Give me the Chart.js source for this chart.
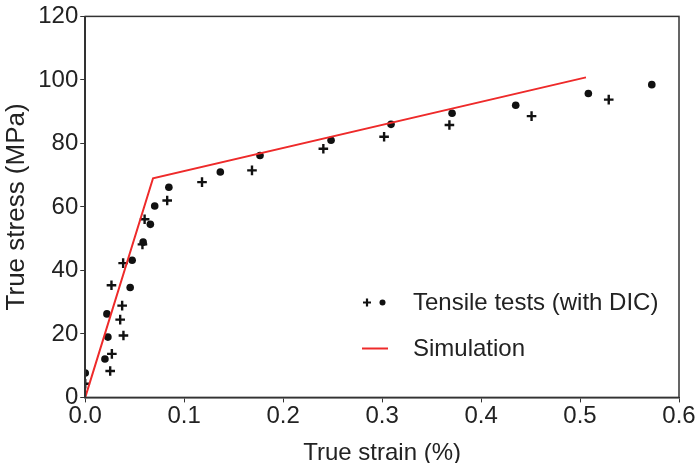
<!DOCTYPE html>
<html>
<head>
<meta charset="utf-8">
<script src="https://cdn.jsdelivr.net/npm/chart.js@4/dist/chart.umd.min.js"></script>
<style>
  html, body { margin: 0; padding: 0; background: #fff; }
  #wrap { width: 696px; height: 463px; }
</style>
</head>
<body>
<div id="wrap"><canvas id="stressChart" width="696" height="463"></canvas></div>
<script>
// ========== DATA ==========
const dotStrain   = [0.0, 0.0199, 0.0229, 0.0219, 0.0454, 0.0474, 0.0585, 0.0658, 0.0702, 0.0845, 0.1365, 0.1766, 0.2484, 0.309, 0.3707, 0.435, 0.5084, 0.5725];
const dotStress   = [7.7, 12.1, 19.0, 26.3, 34.6, 43.2, 48.9, 54.5, 60.3, 66.2, 71.0, 76.2, 81.0, 86.0, 89.5, 92.0, 95.7, 98.5];
const crossStrain = [0.0, 0.0252, 0.0269, 0.0386, 0.0353, 0.0373, 0.0265, 0.0383, 0.0578, 0.0600, 0.0828, 0.118, 0.1685, 0.2406, 0.302, 0.368, 0.451, 0.529];
const crossStress = [4.3, 8.3, 13.7, 19.5, 24.5, 28.9, 35.3, 42.3, 48.2, 56.1, 62.0, 67.8, 71.5, 78.3, 82.1, 85.8, 88.6, 93.8];
const simStrain   = [0.0, 0.0685, 0.506];
const simStress   = [0.0, 69.0, 100.8];

const legendLabels = ['Tensile tests (with DIC)', 'Simulation'];

const toPoints = (xs, ys) => xs.map((x, i) => ({ x: x, y: ys[i] }));

const FONT_FAMILY = '"Liberation Sans", Arial, sans-serif';

// frame around plot area + custom legend (two markers for the test data)
const framePlugin = {
    id: 'frame',
    afterDraw(chart) {
        const { ctx, chartArea: a } = chart;
        ctx.save();
        ctx.strokeStyle = '#333';
        ctx.lineWidth = 1.5;
        ctx.strokeRect(a.left, a.top, a.right - a.left, a.bottom - a.top);

        ctx.font = '24px ' + FONT_FAMILY;
        ctx.fillStyle = '#222';
        ctx.textBaseline = 'middle';
        ctx.fillText(legendLabels[0], 413, 303);
        ctx.fillText(legendLabels[1], 413, 349);

        ctx.strokeStyle = '#111';
        ctx.lineWidth = 2.2;
        ctx.beginPath();
        ctx.moveTo(363, 302.5); ctx.lineTo(371, 302.5);
        ctx.moveTo(367, 298.5); ctx.lineTo(367, 306.5);
        ctx.stroke();
        ctx.fillStyle = '#111';
        ctx.beginPath();
        ctx.arc(382.5, 302.5, 3, 0, Math.PI * 2);
        ctx.fill();

        ctx.strokeStyle = '#ee2a2a';
        ctx.lineWidth = 2;
        ctx.beginPath();
        ctx.moveTo(362, 348.5); ctx.lineTo(388, 348.5);
        ctx.stroke();
        ctx.restore();
    }
};

const tickFont = { family: FONT_FAMILY, size: 24 };

new Chart(document.getElementById('stressChart').getContext('2d'), {
    type: 'scatter',
    data: {
        datasets: [
            {
                label: 'Simulation',
                type: 'line',
                data: toPoints(simStrain, simStress),
                borderColor: '#ee2a2a',
                borderWidth: 2,
                pointRadius: 0,
                fill: false,
                tension: 0
            },
            {
                label: 'Tensile tests (dots)',
                data: toPoints(dotStrain, dotStress),
                pointStyle: 'circle',
                pointRadius: 3.8,
                backgroundColor: '#111',
                borderColor: '#111',
                borderWidth: 0
            },
            {
                label: 'Tensile tests (crosses)',
                data: toPoints(crossStrain, crossStress),
                pointStyle: 'cross',
                pointRadius: 4.8,
                borderColor: '#111',
                borderWidth: 2.4
            }
        ]
    },
    options: {
        responsive: false,
        animation: false,
        layout: { padding: { top: 6, right: 17, bottom: -5, left: 1 } },
        plugins: {
            legend: { display: false },
            tooltip: { enabled: false }
        },
        scales: {
            x: {
                type: 'linear',
                min: 0, max: 0.6,
                ticks: { stepSize: 0.1, color: '#222', font: tickFont, padding: 0, callback: (v) => v.toFixed(1) },
                grid: { drawOnChartArea: false, tickLength: 5, color: '#333' },
                border: { color: '#333', width: 1.5 },
                title: { display: true, text: 'True strain (%)', color: '#222', font: tickFont, padding: { top: 8, bottom: 0 } }
            },
            y: {
                min: 0, max: 120,
                ticks: { stepSize: 20, color: '#222', font: tickFont, padding: 2 },
                grid: { drawOnChartArea: false, tickLength: 5, color: '#333' },
                border: { color: '#333', width: 1.5 },
                title: { display: true, text: 'True stress (MPa)', color: '#222', font: { family: FONT_FAMILY, size: 26 }, padding: { top: 0, bottom: 4 } }
            }
        }
    },
    plugins: [framePlugin]
});
</script>
</body>
</html>
